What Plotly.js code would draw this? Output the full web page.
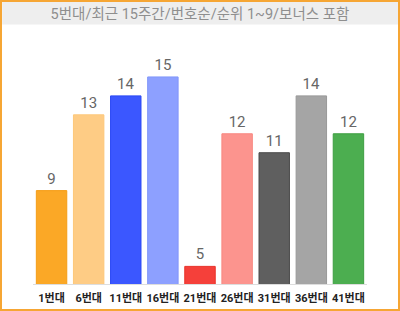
<!DOCTYPE html>
<html><head><meta charset="utf-8">
<script src="https://cdn.plot.ly/plotly-3.0.1.min.js"></script>
<style>
html,body{margin:0;padding:0;background:#fff;}
#wrap{position:absolute;left:0;top:0;width:400px;height:311px;box-sizing:border-box;border:2px solid #F6A634;background:#fff;}
#chart{width:396px;height:307px;}
</style></head>
<body><div id="wrap"><div id="chart"></div></div>
<script>
const titleText = "5번대/최근 15주간/번호순/순위 1~9/보너스 포함";
const categories = ["1번대","6번대","11번대","16번대","21번대","26번대","31번대","36번대","41번대"];
const counts = [9, 13, 14, 15, 5, 12, 11, 14, 12];
const fillColors = ["#FBA826","#FECC85","#3B57FF","#8DA0FF","#F5403A","#FC948E","#5F5F5F","#A5A5A5","#4CAE50"];
const lineColors = ["#F59E17","#FDC779","#2A48F5","#8196FA","#E83128","#F88880","#4A4A4A","#999999","#3E9E42"];

const W = 396, H = 307;
const ml = 30.8, mr = W - 364.7, mt = 56.4, mb = H - 282.3;
const plotW = W - ml - mr, plotH = H - mt - mb;

const data = [{
  type: "bar",
  x: categories,
  y: counts,
  text: counts.map(String),
  textposition: "outside",
  cliponaxis: true,
  textfont: {family: "Roboto, 'Noto Sans CJK KR', sans-serif", size: 15, color: "#666666"},
  marker: {color: fillColors, line: {color: lineColors, width: 1}},
  hoverinfo: "none"
}];

const layout = {
  width: W, height: H,
  margin: {l: ml, r: mr, t: mt, b: mb, pad: 0},
  paper_bgcolor: "rgba(0,0,0,0)",
  plot_bgcolor: "rgba(0,0,0,0)",
  showlegend: false,
  bargap: 0.18,
  title: {
    text: titleText,
    x: 0.5, xref: "paper", xanchor: "center",
    y: 1 - 11.5 / H, yref: "container", yanchor: "middle",
    font: {family: "Roboto, 'Noto Sans CJK KR', sans-serif", size: 14.5, color: "#8E8E8E"}
  },
  xaxis: {
    type: "category",
    showgrid: false, zeroline: false,
    showline: true, linecolor: "#DDDDDD", linewidth: 1,
    ticks: "",
    tickangle: 0,
    automargin: false,
    ticklabelstandoff: 4,
    tickfont: {family: "Roboto, 'Noto Sans CJK KR', sans-serif", size: 11, color: "#222222", weight: "bold"},
    fixedrange: true
  },
  yaxis: {
    range: [4.07, 16],
    visible: false,
    showgrid: false, zeroline: false,
    fixedrange: true
  },
  shapes: [{
    type: "rect", layer: "below",
    xref: "paper", yref: "paper",
    x0: -ml / plotW, x1: 1 + mr / plotW,
    y0: 1 + (mt - 23) / plotH, y1: 1 + mt / plotH,
    fillcolor: "#EEEEEE", line: {width: 0}
  }]
};

Plotly.newPlot("chart", data, layout, {displayModeBar: false, staticPlot: true});
</script></body></html>
